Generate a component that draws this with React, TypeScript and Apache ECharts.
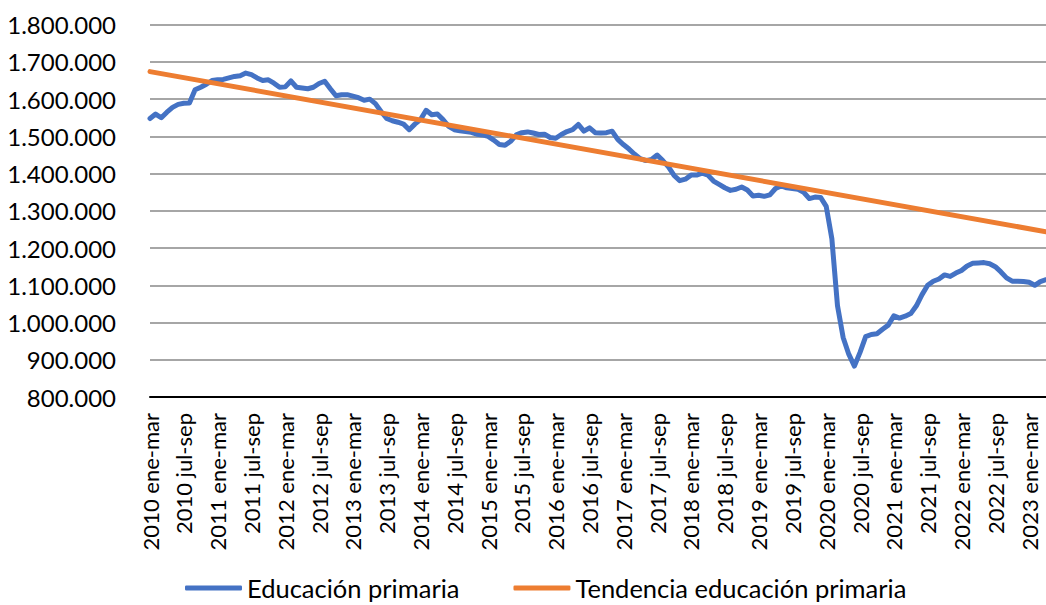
import React, { useEffect, useRef } from "react";
import * as echarts from "echarts";

const periods = ["ene-mar", "feb-abr", "mar-may", "abr-jun", "may-jul", "jun-ago", "jul-sep", "ago-oct", "sep-nov", "oct-dic", "nov-ene", "dic-feb"];
const startYear = 2010;
const pointCount = 160;
const categories: string[] = Array.from({ length: pointCount }, (_, i) => `${startYear + Math.floor(i / 12)} ${periods[i % 12]}`);

// Educación primaria (thousands)
const primariaK = [
  1548, 1560, 1550, 1565, 1578, 1586, 1589, 1590, 1625, 1632,
  1640, 1650, 1652, 1653, 1657, 1661, 1663, 1670, 1666, 1657,
  1650, 1652, 1643, 1632, 1633, 1649, 1632, 1630, 1628, 1632,
  1642, 1648, 1628, 1609, 1612, 1612, 1608, 1604, 1597, 1600,
  1588, 1567, 1548, 1542, 1538, 1533, 1518, 1533, 1545, 1570,
  1558, 1560, 1545, 1527, 1518, 1515, 1513, 1511, 1506, 1504,
  1500, 1490, 1478, 1476, 1487, 1504, 1510, 1512, 1509, 1505,
  1506, 1497, 1495, 1505, 1513, 1518, 1532, 1514, 1523, 1510,
  1509, 1510, 1514, 1492, 1478, 1466, 1452, 1440, 1435, 1438,
  1450, 1435, 1418, 1395, 1381, 1385, 1396, 1396, 1401, 1396,
  1380, 1371, 1362, 1355, 1358, 1364, 1356, 1340, 1342, 1339,
  1343, 1360, 1367, 1362, 1360, 1358, 1350, 1333, 1337, 1336,
  1312, 1225, 1045, 960, 915, 883, 920, 962, 968, 970,
  982, 993, 1018, 1012, 1017, 1024, 1045, 1075, 1100, 1111,
  1117, 1128, 1124, 1133, 1140, 1152, 1159, 1160, 1161, 1158,
  1150, 1136, 1120, 1111, 1111, 1110, 1108, 1100, 1110, 1115,
];
const primaria = primariaK.map((v) => v * 1000);

// Linear trend endpoints (first and last category)
const trendStart = 1674000;
const trendEnd = 1244000;

const yTicks = { min: 800000, max: 1800000, interval: 100000 };

const fmt = (v: number) => String(Math.round(v)).replace(/\B(?=(\d{3})+(?!\d))/g, ".");

const FONT = "Lato";

export default function App() {
  const ref = useRef<HTMLDivElement>(null);
  useEffect(() => {
    document.body.style.margin = "0";
    const chart = echarts.init(ref.current!, null, { renderer: "svg" });
    chart.setOption({
      animation: false,
      backgroundColor: "#ffffff",
      textStyle: { fontFamily: FONT },
      grid: { left: 150, right: 0, top: 24.7, height: 372.3, containLabel: false },
      legend: {
        left: 180,
        top: 570,
        itemWidth: 57,
        itemHeight: 5,
        itemGap: 54,
        icon: "roundRect",
        textStyle: { fontSize: 25.5, color: "#000", fontFamily: FONT },
        data: ["Educación primaria", "Tendencia educación primaria"],
      },
      xAxis: {
        type: "category",
        data: categories,
        boundaryGap: false,
        axisLine: { show: true, lineStyle: { color: "#000", width: 2 } },
        axisTick: { show: false },
        axisLabel: {
          interval: 5,
          rotate: 90,
          margin: 16,
          fontSize: 22,
          color: "#000",
          fontFamily: FONT,
        },
        splitLine: { show: false },
      },
      yAxis: {
        type: "value",
        min: yTicks.min,
        max: yTicks.max,
        interval: yTicks.interval,
        axisLine: { show: false },
        axisTick: { show: false },
        axisLabel: {
          margin: 34,
          fontSize: 24,
          color: "#000",
          fontFamily: FONT,
          formatter: (v: number) => fmt(v),
        },
        splitLine: { lineStyle: { color: "#a6a6a6", width: 2 } },
      },
      series: [
        {
          name: "Educación primaria",
          type: "line",
          data: primaria,
          symbol: "none",
          lineStyle: { color: "#4472C4", width: 5, cap: "round", join: "round" },
          itemStyle: { color: "#4472C4" },
          z: 2,
        },
        {
          name: "Tendencia educación primaria",
          type: "line",
          data: [
            [0, trendStart],
            [pointCount - 1, trendEnd],
          ],
          symbol: "none",
          lineStyle: { color: "#ED7D31", width: 5, cap: "round" },
          itemStyle: { color: "#ED7D31" },
          z: 3,
        },
      ],
    });
    return () => chart.dispose();
  }, []);
  return <div ref={ref} style={{ width: 1046, height: 605, position: "absolute", left: 0, top: 0 }} />;
}
